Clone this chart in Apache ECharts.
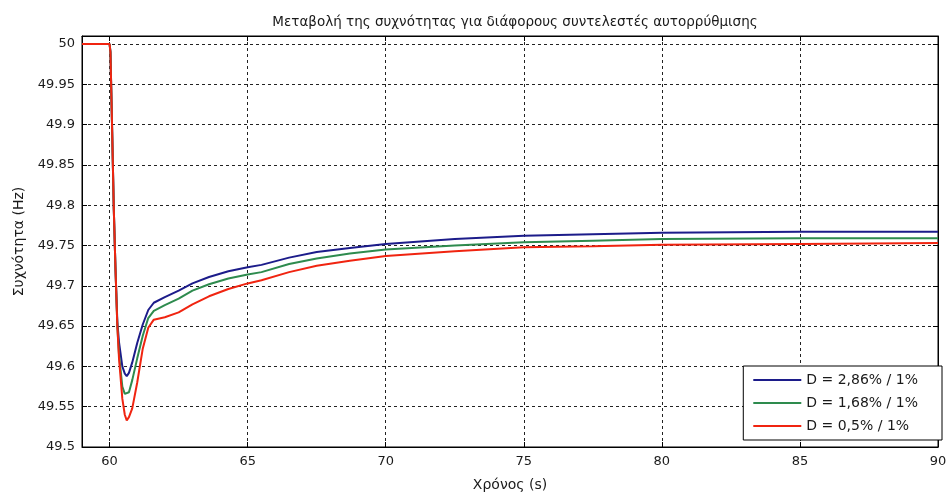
<!DOCTYPE html>
<html>
<head>
<meta charset="UTF-8">
<title>Frequency</title>
<script src="https://cdn.jsdelivr.net/npm/echarts@6/dist/echarts.min.js"></script>
<style>
  html, body { margin: 0; padding: 0; background: #fff; }
  #main { width: 951px; height: 497px; }
</style>
</head>
<body>
<div id="main"></div>
<script type="text/javascript">
var seriesNames = ['D = 2,86% / 1%', 'D = 1,68% / 1%', 'D = 0,5% / 1%'];
var colors = ['#1c1c8a', '#2e8b4e', '#f02410'];

// time (s)
var time = [59, 60, 60.03, 60.09, 60.15, 60.21, 60.28, 60.34, 60.46, 60.55,
            60.62, 60.7, 60.82, 61.0, 61.2, 61.4, 61.6, 62.0, 62.5, 63.0,
            63.6, 64.3, 65.0, 65.5, 66.5, 67.5, 68.7, 70, 72.5, 75,
            77.5, 80, 85, 90];

// frequency (Hz)
var freqHigh = [50, 50, 49.99, 49.896, 49.797, 49.724, 49.655, 49.63, 49.60, 49.591,
                49.588, 49.592, 49.605, 49.629, 49.652, 49.670, 49.679, 49.686, 49.694, 49.703,
                49.711, 49.718, 49.723, 49.726, 49.735, 49.742, 49.747, 49.752, 49.758, 49.762,
                49.764, 49.766, 49.767, 49.767];
var freqMid = [50, 50, 49.99, 49.896, 49.797, 49.724, 49.65, 49.615, 49.575, 49.566,
               49.564, 49.568, 49.583, 49.61, 49.638, 49.66, 49.669, 49.676, 49.684, 49.694,
               49.702, 49.709, 49.714, 49.717, 49.727, 49.734, 49.740, 49.745, 49.750, 49.754,
               49.756, 49.758, 49.759, 49.759];
var freqLow = [50, 50, 49.99, 49.896, 49.797, 49.724, 49.65, 49.61, 49.56, 49.54,
               49.533, 49.537, 49.548, 49.58, 49.622, 49.648, 49.658, 49.661, 49.667, 49.677,
               49.687, 49.696, 49.703, 49.707, 49.717, 49.725, 49.731, 49.737, 49.743, 49.748,
               49.749, 49.751, 49.752, 49.753];

var allFreq = [freqHigh, freqMid, freqLow];

var myChart = echarts.init(document.getElementById('main'));

var font = 'DejaVu Sans, sans-serif';
var textColor = '#1a1a1a';

function pairs(arr) {
    return time.map(function (t, i) { return [t, arr[i]]; });
}

var series = allFreq.map(function (arr, i) {
    return {
        name: seriesNames[i],
        type: 'line',
        data: pairs(arr),
        symbol: 'none',
        smooth: false,
        lineStyle: { width: 2, color: colors[i] },
        itemStyle: { color: colors[i] }
    };
});

var tickStyle = { show: true, inside: true, length: 5, lineStyle: { color: '#000' } };
var gridDash = { show: true, lineStyle: { color: '#222', type: [3, 3], width: 1 } };

var option = {
    animation: false,
    title: {
        text: 'Μεταβολή της συχνότητας για διάφορους συντελεστές αυτορρύθμισης',
        left: 510,
        textAlign: 'center',
        top: 10,
        textStyle: { fontFamily: font, fontSize: 13.5, fontWeight: 'normal', color: textColor }
    },
    grid: {
        left: 82, right: 13, top: 36, bottom: 45,
        show: true, borderColor: '#000', borderWidth: 1, backgroundColor: '#fff'
    },
    legend: {
        orient: 'vertical',
        right: 9,
        bottom: 57,
        icon: 'path://M0,0H48V2H0Z',
        itemWidth: 48,
        itemHeight: 2,
        itemGap: 9,
        padding: [7, 24, 7, 10],
        backgroundColor: '#fff',
        borderColor: '#000',
        borderWidth: 1,
        borderRadius: 0,
        textStyle: { fontFamily: font, fontSize: 14, color: textColor },
        data: seriesNames
    },
    xAxis: [{
        type: 'value',
        min: 59,
        max: 90,
        minInterval: 5,
        maxInterval: 5,
        name: 'Χρόνος (s)',
        nameLocation: 'middle',
        nameGap: 31,
        nameTextStyle: { fontFamily: font, fontSize: 14, color: textColor },
        axisLine: { show: true, onZero: false, lineStyle: { color: '#000' } },
        axisTick: tickStyle,
        axisLabel: {
            fontFamily: font, fontSize: 13, color: textColor, margin: 8,
            formatter: function (v) { return v % 5 === 0 ? String(v) : ''; }
        },
        splitLine: gridDash
    }, {
        type: 'value',
        position: 'top',
        min: 59,
        max: 90,
        minInterval: 5,
        maxInterval: 5,
        axisLine: { show: true, onZero: false, lineStyle: { color: '#000' } },
        axisTick: tickStyle,
        axisLabel: { show: false },
        splitLine: { show: false }
    }],
    yAxis: [{
        type: 'value',
        min: 49.5,
        max: 50.01,
        interval: 0.05,
        name: 'Συχνότητα (Hz)',
        nameLocation: 'middle',
        nameGap: 56,
        nameTextStyle: { fontFamily: font, fontSize: 14, color: textColor },
        axisLine: { show: true, lineStyle: { color: '#000' } },
        axisTick: tickStyle,
        axisLabel: {
            fontFamily: font, fontSize: 13, color: textColor, margin: 7,
            showMaxLabel: false,
            formatter: function (v) { return v > 50.001 ? '' : String(parseFloat(v.toFixed(2))); }
        },
        splitLine: gridDash
    }, {
        type: 'value',
        position: 'right',
        min: 49.5,
        max: 50.01,
        interval: 0.05,
        axisLine: { show: true, lineStyle: { color: '#000' } },
        axisTick: tickStyle,
        axisLabel: { show: false },
        splitLine: { show: false }
    }],
    series: series
};

myChart.setOption(option);
</script>
</body>
</html>
